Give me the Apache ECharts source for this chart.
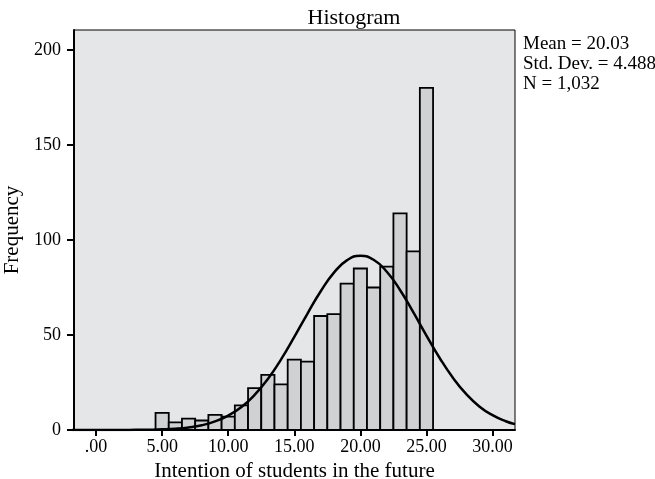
<!DOCTYPE html>
<html>
<head>
<meta charset="utf-8">
<script src="https://cdn.jsdelivr.net/npm/echarts@6/dist/echarts.min.js"></script>
<style>
  html, body { margin: 0; padding: 0; background: #fff; }
  #chart { width: 655px; height: 479px; }
</style>
</head>
<body>
<div id="chart"></div>
<script>
// histogram bins (centre of each bin, width 1)
const binCenters = [5, 6, 7, 8, 9, 10, 11, 12, 13, 14, 15, 16, 17, 18, 19, 20, 21, 22, 23, 24, 25];
const frequencies = [9, 4, 6, 5, 8, 7, 13, 22, 29, 24, 37, 36, 60, 61, 77, 85, 75, 86, 114, 94, 180];

// normal curve
const curveX = [-2, 0, 2, 3, 4, 5, 6, 7, 8, 9, 10, 11, 12, 13, 14, 15, 16, 17, 18, 19, 20, 21, 22, 23, 24, 25, 26, 27, 28, 29, 30, 31, 31.7];
const curveY = [0, 0, 0.02, 0.07, 0.16, 0.34, 0.69, 1.36, 2.5, 4.5, 7.6, 12.1, 18.5, 26.9, 37.2, 49.0, 61.3, 73.0, 82.8, 89.4, 91.7, 89.6, 83.3, 73.7, 62.0, 49.7, 37.9, 27.5, 19.0, 12.4, 7.8, 4.6, 3.1];

const xTicks = [0, 5, 10, 15, 20, 25, 30];
const xTickLabels = ['.00', '5.00', '10.00', '15.00', '20.00', '25.00', '30.00'];
const yTicks = [0, 50, 100, 150, 200];

const statsLines = ['Mean = 20.03', 'Std. Dev. = 4.488', 'N = 1,032'];

const font = '"Liberation Serif", "DejaVu Serif", serif';

const chart = echarts.init(document.getElementById('chart'));

const option = {
  animation: false,
  title: [
    {
      text: 'Histogram',
      left: 349,
      textAlign: 'center',
      top: 2,
      textStyle: { fontFamily: font, fontSize: 22, fontWeight: 'normal', color: '#000' }
    },
    {
      text: statsLines.join('\n'),
      left: 518,
      top: 29,
      textStyle: { fontFamily: font, fontSize: 19, fontWeight: 'normal', color: '#000', lineHeight: 20 }
    }
  ],
  grid: {
    left: 74,
    right: 140,
    top: 30,
    bottom: 49,
    outerBoundsMode: 'none',
    show: true,
    backgroundColor: '#e5e6e8',
    borderColor: '#000',
    borderWidth: 1
  },
  xAxis: {
    type: 'value',
    min: -1.67,
    max: 31.7,
    name: 'Intention of students in the future',
    nameLocation: 'middle',
    nameGap: 23,
    nameTextStyle: { fontFamily: font, fontSize: 21, color: '#000' },
    axisLine: { onZero: false, lineStyle: { color: '#000', width: 2 } },
    axisTick: { customValues: xTicks, length: 6, lineStyle: { color: '#000', width: 2 } },
    axisLabel: {
      customValues: xTicks,
      fontFamily: font,
      fontSize: 18,
      color: '#000',
      margin: 8,
      formatter: v => xTickLabels[xTicks.indexOf(v)] || ''
    },
    splitLine: { show: false }
  },
  yAxis: {
    type: 'value',
    min: 0,
    max: 210.5,
    name: 'Frequency',
    nameLocation: 'middle',
    nameGap: 44,
    nameTextStyle: { fontFamily: font, fontSize: 21, color: '#000' },
    axisLine: { show: true, onZero: false, lineStyle: { color: '#000', width: 2 } },
    axisTick: { show: true, customValues: yTicks, length: 7, lineStyle: { color: '#000', width: 2 } },
    axisLabel: { customValues: yTicks, fontFamily: font, fontSize: 18, color: '#000', margin: 13 },
    splitLine: { show: false }
  },
  series: [
    {
      type: 'custom',
      data: binCenters.map((c, i) => [c, frequencies[i]]),
      renderItem: (params, api) => {
        const c = api.value(0);
        const f = api.value(1);
        const p0 = api.coord([c - 0.5, f]);
        const p1 = api.coord([c + 0.5, 0]);
        return {
          type: 'rect',
          shape: { x: p0[0], y: p0[1], width: p1[0] - p0[0], height: p1[1] - p0[1] },
          style: { fill: '#d0d1d3', stroke: '#000', lineWidth: 1.8 }
        };
      },
      z: 2
    },
    {
      type: 'line',
      data: curveX.map((x, i) => [x, curveY[i]]),
      smooth: true,
      showSymbol: false,
      clip: true,
      lineStyle: { color: '#000', width: 2.5 },
      z: 3
    }
  ]
};

chart.setOption(option);
</script>
</body>
</html>
